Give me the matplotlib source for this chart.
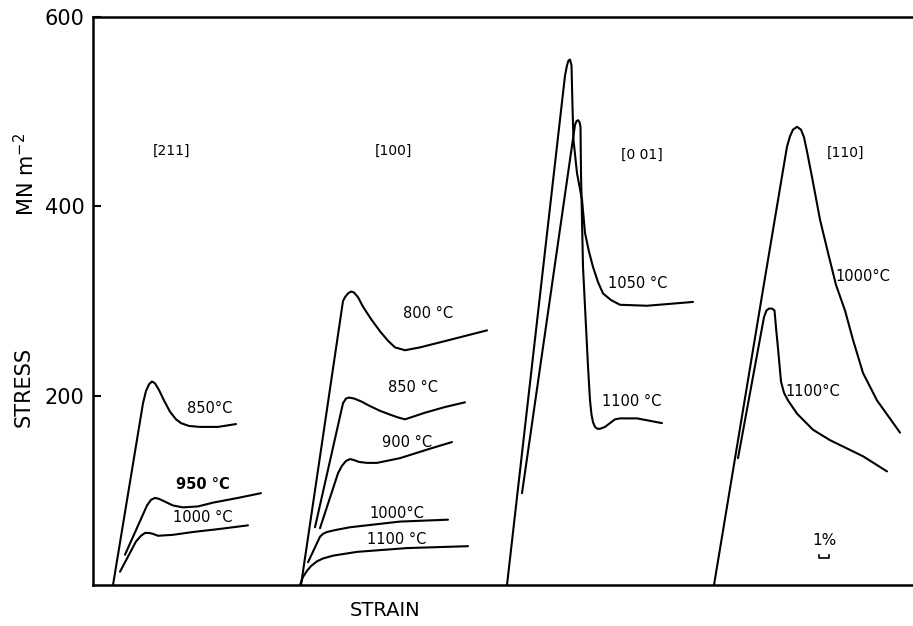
import matplotlib
matplotlib.use("Agg")
import matplotlib.pyplot as plt

# ---------------- data (strain in %, stress in MN m^-2) ----------------
# [211]
c211_850_x = [2.0, 5.0, 5.3, 5.6, 5.9, 6.2, 6.6, 7.1, 7.7, 8.3, 8.8, 9.6, 10.7, 12.5, 14.3]
c211_850_y = [0, 192, 205, 212, 215, 213, 206, 195, 183, 175, 171, 168, 167, 167, 170]
c211_950_x = [3.2, 5.4, 5.8, 6.2, 6.6, 7.2, 8.0, 9.0, 10.5, 12.0, 14.5, 16.8]
c211_950_y = [32, 84, 90, 92, 91, 88, 84, 82, 83, 87, 92, 97]
c211_1000_x = [2.7, 4.3, 4.8, 5.2, 5.6, 6.0, 6.5, 8.0, 10.0, 12.5, 15.5]
c211_1000_y = [14, 46, 52, 55, 55, 54, 52, 53, 56, 59, 63]

# [100]
c100_800_x = [20.8, 25.0, 25.2, 25.5, 25.8, 26.1, 26.5, 27.0, 27.8, 28.7, 29.5, 30.2, 31.2, 32.7, 35.7, 39.4]
c100_800_y = [0, 300, 304, 308, 310, 309, 304, 294, 281, 268, 258, 251, 248, 251, 259, 269]
c100_850_x = [22.2, 25.0, 25.3, 25.6, 26.1, 26.8, 27.7, 28.7, 29.7, 30.5, 31.2, 33.2, 35.2, 37.2]
c100_850_y = [61, 192, 197, 198, 197, 194, 189, 184, 180, 177, 175, 182, 188, 193]
c100_900_x = [22.7, 24.5, 24.9, 25.3, 25.7, 26.1, 26.6, 27.4, 28.4, 30.7, 33.7, 35.9]
c100_900_y = [60, 118, 126, 131, 133, 132, 130, 129, 129, 134, 144, 151]
c100_1000_x = [21.5, 22.7, 23.0, 23.4, 24.2, 25.7, 30.7, 35.5]
c100_1000_y = [24, 51, 54, 56, 58, 61, 67, 69]
c100_1100_x = [20.7, 21.0, 21.4, 21.8, 22.4, 23.0, 24.0, 26.4, 31.4, 37.5]
c100_1100_y = [0, 8.5, 15, 20, 25, 28, 31, 35, 39, 41]

# [001]
c001_1050_x = [41.4, 47.2, 47.4, 47.55, 47.7, 47.85, 47.95, 48.05, 48.4, 48.9, 49.2, 49.6, 50.0, 50.5, 51.0, 51.8, 52.7, 55.4, 60.0]
c001_1050_y = [0, 538, 549, 554, 555, 549, 505, 470, 435, 407, 372, 352, 336, 320, 308, 301, 296, 295, 299]
c001_1100_x = [42.9, 48.2, 48.35, 48.5, 48.65, 48.75, 48.8, 48.9, 49.0, 49.5, 49.7, 49.85, 50.0, 50.2, 50.45, 50.7, 51.2, 51.7, 52.2, 52.7, 54.4, 56.9]
c001_1100_y = [97, 486, 490, 491, 489, 484, 435, 386, 336, 231, 195, 180, 172, 167, 165, 165, 167, 171, 175, 176, 176, 171]

# [110]
c110_1000_x = [62.1, 67.0, 69.0, 69.4, 69.7, 70.0, 70.4, 70.8, 71.1, 71.4, 71.9, 72.7, 73.5, 74.3, 75.2, 76.0, 77.0, 78.4, 80.7]
c110_1000_y = [0, 312, 438, 463, 474, 481, 484, 481, 473, 458, 431, 386, 351, 317, 290, 259, 224, 195, 161]
c110_1100_x = [64.5, 67.1, 67.35, 67.6, 67.9, 68.15, 68.3, 68.5, 68.8, 69.1, 69.5, 70.4, 72.0, 73.7, 77.0, 79.4]
c110_1100_y = [134, 283, 290, 292, 292, 290, 272, 250, 215, 203, 195, 181, 164, 153, 136, 120]

yticks = [200, 400, 600]
tick_labels = ["200", "400", "600"]

# ---------------- figure ----------------
fig = plt.figure(figsize=(9.13, 6.26), dpi=100)
ax = fig.add_axes([93 / 913, 41 / 626, 820 / 913, 568 / 626])
ax.set_xlim(0, 82)
ax.set_ylim(0, 600)

lw = 1.5
curves = [
    (c211_850_x, c211_850_y), (c211_950_x, c211_950_y), (c211_1000_x, c211_1000_y),
    (c100_800_x, c100_800_y), (c100_850_x, c100_850_y), (c100_900_x, c100_900_y),
    (c100_1000_x, c100_1000_y), (c100_1100_x, c100_1100_y),
    (c001_1050_x, c001_1050_y), (c001_1100_x, c001_1100_y),
    (c110_1000_x, c110_1000_y), (c110_1100_x, c110_1100_y),
]
for xs, ys in curves:
    ax.plot(xs, ys, color="black", lw=lw, solid_joinstyle="round", solid_capstyle="round")

# spines / ticks
ax.spines["right"].set_visible(False)
for s in ["left", "bottom", "top"]:
    ax.spines[s].set_linewidth(1.8)
ax.set_xticks([])
ax.set_yticks(yticks)
ax.set_yticklabels(tick_labels)
ax.tick_params(axis="y", direction="in", length=6, width=1.5, pad=6, labelsize=15)

# axis labels
fig.text(24 / 913, 1 - 387 / 626, "STRESS", rotation=90, ha="center", va="center", fontsize=15)
fig.text(26 / 913, 1 - 175 / 626, "MN m$^{-2}$", rotation=90, ha="center", va="center", fontsize=15)
fig.text(385 / 913, 1 - 610 / 626, "STRAIN", ha="center", va="center", fontsize=14)

fs = 10.5
def lab(x, y, t, **kw):
    ax.text(x, y, t, ha="center", va="center", fontsize=kw.pop("fontsize", fs), **kw)

# orientation labels
lab(7.9, 459, "[211]", fontsize=10)
lab(30.0, 459, "[100]", fontsize=10)
lab(54.9, 454, "[0 01]", fontsize=10)
lab(75.2, 456, "[110]", fontsize=10)

# temperature labels
lab(11.7, 186, "850°C")
lab(11.0, 106, "950 °C", fontweight="bold")
lab(11.0, 71, "1000 °C")
lab(33.5, 287, "800 °C")
lab(32.0, 209, "850 °C")
lab(31.4, 151, "900 °C")
lab(30.4, 75, "1000°C")
lab(30.4, 48, "1100 °C")
lab(54.5, 319, "1050 °C")
lab(53.9, 194, "1100 °C")
lab(77.0, 326, "1000°C")
lab(72.0, 204, "1100°C")

# 1 % strain scale bar
lab(73.1, 47.5, "1%", fontsize=11)
ax.plot([72.6, 72.6, 73.6, 73.6], [32, 28.5, 28.5, 32], color="black", lw=1.2)

fig.savefig("out.png", dpi=100)
